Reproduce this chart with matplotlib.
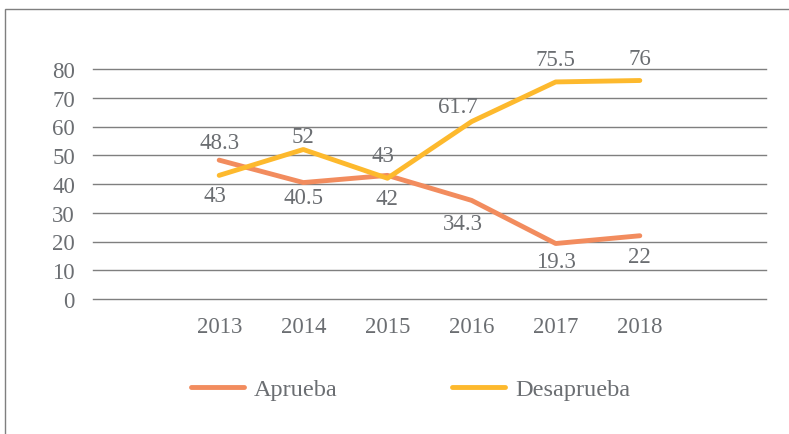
import matplotlib.pyplot as plt
from matplotlib.patches import Rectangle

years = ["2013", "2014", "2015", "2016", "2017", "2018"]
aprueba = [48.3, 40.5, 43, 34.3, 19.3, 22]
desaprueba = [43, 52, 42, 61.7, 75.5, 76]
aprueba_labels = ["48.3", "40.5", "43", "34.3", "19.3", "22"]
desaprueba_labels = ["43", "52", "42", "61.7", "75.5", "76"]

# label offsets in points (above / below the line)
aprueba_off = [(0, 13), (0, -11), (-3, 14), (-6.5, -16.5), (0, -13), (0, -15)]
desaprueba_off = [(-3, -14.5), (0, 9.5), (0, -14.5), (-10, 11), (0, 16.5), (0, 16)]

plt.rcParams['font.family'] = ['Liberation Serif', 'DejaVu Serif']
gray_text = "#6b6e72"
c_apr = "#F28C5E"
c_des = "#FDB92D"

fig = plt.figure(figsize=(7.89, 4.35), dpi=100)
fig.patches.append(Rectangle((5 / 789, -0.1), 1.1, 1 - 10 / 435 + 0.1,
                             transform=fig.transFigure, fill=False,
                             edgecolor="#7f7f7f", lw=1))
ax = fig.add_axes([93 / 789, 1 - 300 / 435, (766 - 93) / 789, 230 / 435])

x = list(range(1, len(years) + 1))
ax.plot(x, aprueba, color=c_apr, lw=3.5, solid_capstyle="round",
        solid_joinstyle="round", label="Aprueba", zorder=3)
ax.plot(x, desaprueba, color=c_des, lw=3.5, solid_capstyle="round",
        solid_joinstyle="round", label="Desaprueba", zorder=3)

for xi, v, t, off in zip(x, aprueba, aprueba_labels, aprueba_off):
    ax.annotate(t, (xi, v), xytext=off, textcoords="offset points",
                ha="center", va="center", fontsize=16.5, color=gray_text)
for xi, v, t, off in zip(x, desaprueba, desaprueba_labels, desaprueba_off):
    ax.annotate(t, (xi, v), xytext=off, textcoords="offset points",
                ha="center", va="center", fontsize=16.5, color=gray_text)

ax.set_xlim(-0.5, 7.5)
ax.set_ylim(0, 80)
ax.set_yticks(range(0, 81, 10))
ax.set_xticks(x)
ax.set_xticklabels(years)
ax.yaxis.grid(True, color="#7f7f7f", lw=1)
for gl in ax.get_ygridlines():
    gl.set_clip_on(False)
ax.set_axisbelow(True)
for s in ax.spines.values():
    s.set_visible(False)
ax.tick_params(length=0, labelsize=16.5, labelcolor=gray_text)
ax.tick_params(axis="y", pad=13)
ax.tick_params(axis="x", pad=12)

fig.legend(loc="center", bbox_to_anchor=(0.52, 0.103), ncol=2, frameon=False,
           fontsize=17.5, labelcolor=gray_text, handlelength=2.2,
           columnspacing=4.7, handletextpad=0.4)

fig.savefig("out.png", dpi=100)
